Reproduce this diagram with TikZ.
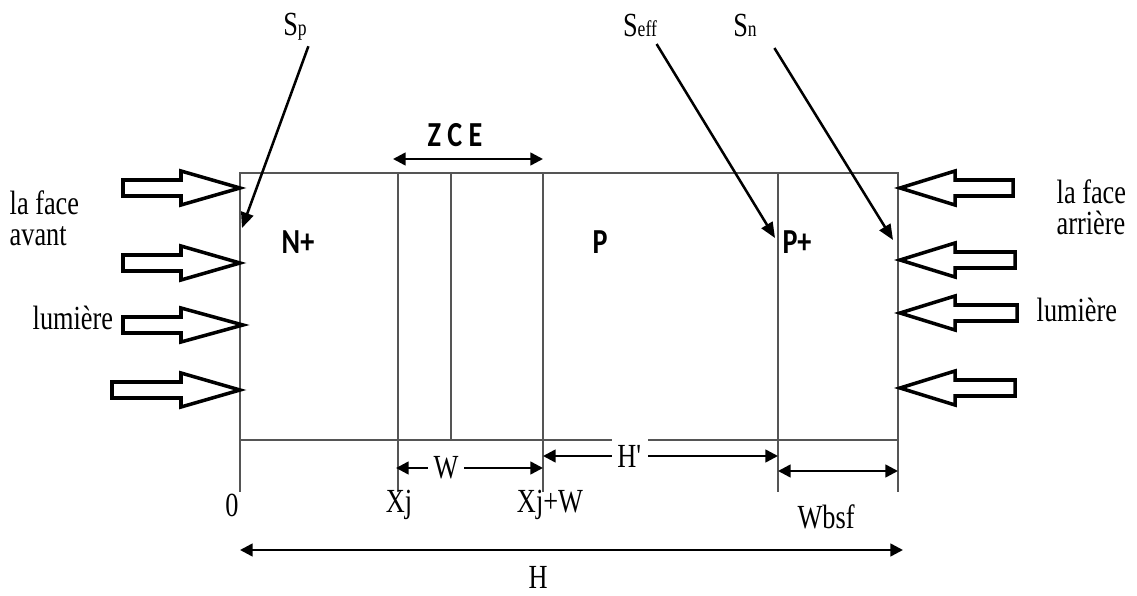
\documentclass[tikz,border=0pt]{standalone}
\usepackage{fontspec}
\setmainfont{Liberation Serif}[FakeStretch=0.78]
\newfontfamily\boldsans{Carlito}[FakeStretch=0.8]
\usepackage{xcolor}
\usepackage{tikz}
\usetikzlibrary{
  arrows.meta,
  calc
}
\definecolor{edgegrey}{HTML}{555555}
\newcommand{\smallpart}[1]{{\fontsize{16}{16}\selectfont #1}}
\tikzset{
  cellline/.style={
    edgegrey, line width=0.8pt
  },
  dimarrow/.style={
    {Triangle[length=9pt,width=9pt]}-{Triangle[length=9pt,width=9pt]},
    line width=1.8pt
  },
  pointer/.style={
    -{Triangle[length=11pt,width=9pt]}, line width=1.8pt
  },
  lightarrow/.style={
    draw=black, line width=2.5pt, fill=white, line join=miter
  },
  lab/.style={
    font=\fontsize{24}{22}\selectfont, inner sep=1pt
  },
  region/.style={
    font=\boldsans\bfseries\fontsize{25}{26}\selectfont
  },
  gap/.style={
    lab, fill=white, inner sep=4pt
  },
}

\begin{document}
\begin{tikzpicture}[x=0.025cm, y=-0.025cm]
  \useasboundingbox (0,0) rectangle (1137,596);

  %% Cell and its regions
  \draw[cellline] (240,173) rectangle (898,440);
  \foreach \x in {398,451,543,778} {
    \draw[cellline] (\x,173) -- (\x,440);
  }
  \foreach \x in {240,398,543,778,898} {
    \draw[cellline] (\x,440) -- (\x,492);
  }

  \node[region] (nplus) at (298,242) {N+};
  \node[region] (pbase) at (600,242) {P};
  \node[region] (pplus) at (797,242) {P+};
  \node[region] (zce) at (455,135) {Z C E};

  %% Incoming light, front side
  \foreach \yy/\xt/\xh in {188/123/240, 263/123/240, 325/123/243, 390/112/240} {
    \draw[lightarrow] (\xt,\yy-8) -- (181,\yy-8) -- (181,\yy-17) -- (\xh,\yy)
      -- (181,\yy+17) -- (181,\yy+8) -- (\xt,\yy+8) -- cycle;
  }
  %% Incoming light, rear side
  \foreach \yy/\xt in {188/1013, 260/1015, 313/1017, 388/1015} {
    \draw[lightarrow] (\xt,\yy-8) -- (955,\yy-8) -- (955,\yy-17) -- (900,\yy)
      -- (955,\yy+17) -- (955,\yy+8) -- (\xt,\yy+8) -- cycle;
  }

  \node[lab, align=left, anchor=west] (front) at (8,218) {la face\\avant};
  \node[lab, anchor=west] (lightl) at (31,318) {lumière};
  \node[lab, align=left, anchor=west] (back) at (1055,207) {la face\\arrière};
  \node[lab, anchor=west] (lightr) at (1035,310) {lumière};

  %% Recombination velocities
  \node[lab] (sp) at (295,27) {S\smallpart{p}};
  \node[lab] (seff) at (640,25) {S\smallpart{eff}};
  \node[lab] (sn) at (745,25) {S\smallpart{n}};
  \coordinate (spend) at (242,228);
  \coordinate (seffend) at (775,238);
  \coordinate (snend) at (893,240);
  \draw[pointer] ($(sp.south east)+(0,4)$) -- (spend);
  \draw[pointer] ($(seff.south east)+(-2,6)$) -- (seffend);
  \draw[pointer] ($(sn.south east)+(16,10)$) -- (snend);

  %% Dimensions
  \draw[dimarrow] (393,159) -- (543,159);
  \draw[dimarrow] (396,468) -- (543,468) node[gap, pos=0.34] (wlab) {W};
  \draw[dimarrow] (543,456) -- (778,456) node[gap, pos=0.37] (hplab) {H\textquotesingle};
  \draw[dimarrow] (778,471) -- (898,471);
  \draw[dimarrow] (240,550) -- (903,550);

  \node[lab] (xzero) at (232,505) {0};
  \node[lab] (xj) at (399,505) {Xj};
  \node[lab] (xjw) at (550,505) {Xj+W};
  \node[lab] (wbsf) at (826,517) {Wbsf};
  \node[lab, inner sep=0pt] (htot) at (538,577) {H};
\end{tikzpicture}
\end{document}
